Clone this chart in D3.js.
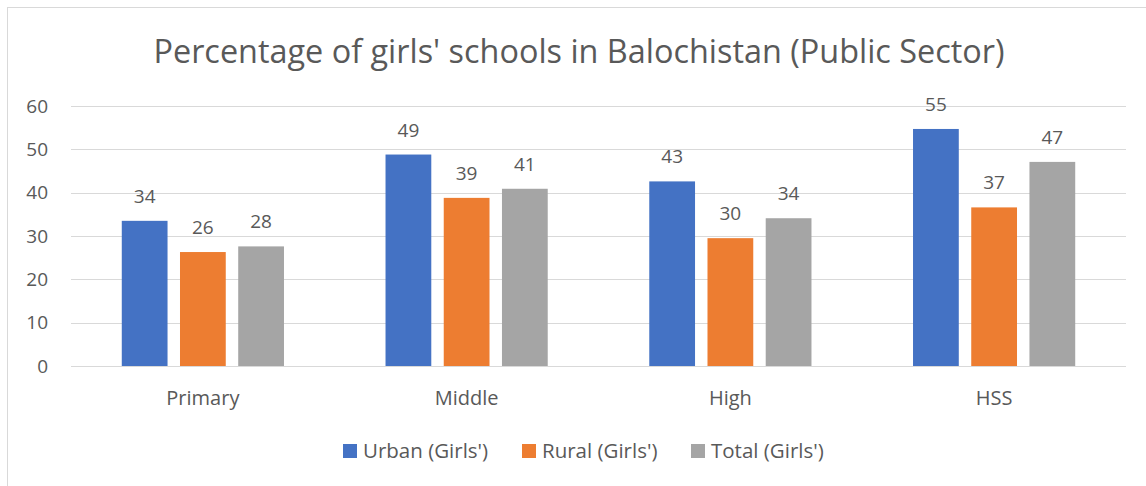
<!DOCTYPE html>
<html lang="en">
<head>
  <meta charset="UTF-8">
  <title>Percentage of girls' schools in Balochistan</title>
  <script src="https://d3js.org/d3.v7.min.js"></script>
  <style>
    body {
      margin: 0;
      background: #fff;
      font-family: 'Open Sans', sans-serif;
    }
    svg { display: block; }
    .grid line { stroke: #d9d9d9; stroke-width: 1; shape-rendering: crispEdges; }
    .grid path { display: none; }
    text { fill: #595959; }
  </style>
</head>
<body>
  <div id="chart"></div>

  <script>
    // Data
    const categories = ["Primary", "Middle", "High", "HSS"];
    const seriesNames = ["Urban (Girls')", "Rural (Girls')", "Total (Girls')"];
    const urban = [33.5, 48.8, 42.6, 54.7];
    const rural = [26.3, 38.8, 29.5, 36.6];
    const total = [27.6, 40.9, 34.1, 47.1];
    const colors = ["#4472c4", "#ed7d31", "#a5a5a5"];
    const yTicks = [0, 10, 20, 30, 40, 50, 60];

    const W = 1146, H = 486;
    const plot = { left: 71, right: 1126, top: 106, bottom: 366 };

    const svg = d3.select("#chart")
      .append("svg")
      .attr("width", W)
      .attr("height", H);

    // chart frame (only top and left edges are inside the picture)
    svg.append("rect")
      .attr("x", 7.5)
      .attr("y", 7.5)
      .attr("width", W + 20)
      .attr("height", H + 20)
      .attr("fill", "none")
      .attr("stroke", "#d9d9d9");

    // title
    svg.append("text")
      .attr("x", 579)
      .attr("y", 63)
      .attr("text-anchor", "middle")
      .style("font-size", "32.4px")
      .text("Percentage of girls' schools in Balochistan (Public Sector)");

    const x0 = d3.scaleBand()
      .domain(categories)
      .range([plot.left, plot.right])
      .paddingInner(0.385)
      .paddingOuter(0.1925);

    const x1 = d3.scaleBand()
      .domain(seriesNames)
      .range([0, x0.bandwidth()])
      .paddingInner(0.214);

    const y = d3.scaleLinear()
      .domain([0, 60])
      .range([plot.bottom, plot.top]);

    // gridlines
    svg.append("g")
      .attr("class", "grid")
      .attr("transform", `translate(${plot.left},0)`)
      .call(d3.axisLeft(y).tickValues(yTicks).tickSize(-(plot.right - plot.left)).tickFormat(""));

    // y tick labels
    svg.append("g")
      .selectAll("text")
      .data(yTicks)
      .join("text")
      .attr("x", 48)
      .attr("y", d => y(d))
      .attr("dy", "0.35em")
      .attr("text-anchor", "end")
      .style("font-size", "19px")
      .text(d => d);

    const seriesData = [urban, rural, total];
    const rows = [];
    categories.forEach((c, i) => {
      seriesNames.forEach((s, j) => {
        rows.push({ cat: c, series: s, value: seriesData[j][i], color: colors[j] });
      });
    });

    // bars
    svg.append("g")
      .selectAll("rect")
      .data(rows)
      .join("rect")
      .attr("x", d => x0(d.cat) + x1(d.series))
      .attr("y", d => y(d.value))
      .attr("width", x1.bandwidth())
      .attr("height", d => y(0) - y(d.value))
      .attr("fill", d => d.color);

    // data labels
    svg.append("g")
      .selectAll("text")
      .data(rows)
      .join("text")
      .attr("x", d => x0(d.cat) + x1(d.series) + x1.bandwidth() / 2)
      .attr("y", d => y(d.value) - 18)
      .attr("text-anchor", "middle")
      .style("font-size", "19px")
      .text(d => Math.round(d.value));

    // x axis line
    svg.append("line")
      .attr("x1", plot.left)
      .attr("x2", plot.right)
      .attr("y1", plot.bottom + 0.5)
      .attr("y2", plot.bottom + 0.5)
      .attr("stroke", "#d9d9d9");

    // category labels
    svg.append("g")
      .selectAll("text")
      .data(categories)
      .join("text")
      .attr("x", d => x0(d) + x0.bandwidth() / 2)
      .attr("y", 405)
      .attr("text-anchor", "middle")
      .style("font-size", "20px")
      .text(d => d);

    // legend
    const legendX = [343, 522, 691];
    const legend = svg.append("g")
      .selectAll("g")
      .data(seriesNames)
      .join("g")
      .attr("transform", (d, i) => `translate(${legendX[i]},444)`);

    legend.append("rect")
      .attr("width", 14)
      .attr("height", 14)
      .attr("fill", (d, i) => colors[i]);

    legend.append("text")
      .attr("x", 20)
      .attr("y", 7)
      .attr("dy", "0.35em")
      .style("font-size", "20.5px")
      .text(d => d);
  </script>
</body>
</html>
